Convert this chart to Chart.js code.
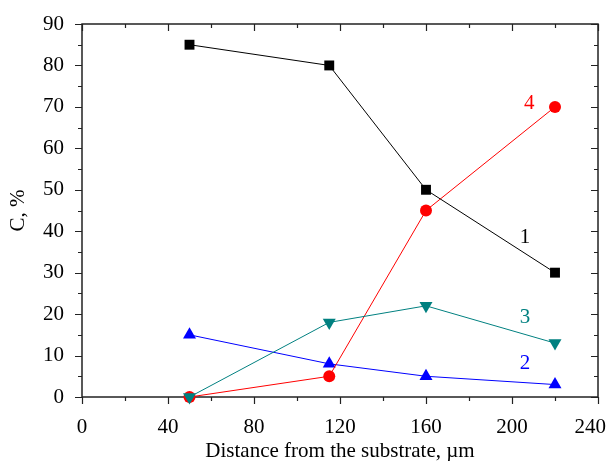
<!DOCTYPE html>
<html>
<head>
<meta charset="utf-8">
<script src="https://cdn.jsdelivr.net/npm/chart.js@4.4.1/dist/chart.umd.min.js"></script>
<style>
  html, body { margin: 0; padding: 0; background: #fff; }
  canvas { display: block; }
</style>
</head>
<body>
<canvas id="chart" width="609" height="461"></canvas>
<script>
// distances from the substrate, um
const distances = [50, 115, 160, 220];
// content C, % for each curve
const curve1 = [85, 80, 50, 30];
const curve2 = [15, 8, 5, 3];
const curve3 = [0, 18, 22, 13];
const curve4 = [0, 5, 45, 70];
const xTicks = [0, 40, 80, 120, 160, 200, 240];
const yTicks = [0, 10, 20, 30, 40, 50, 60, 70, 80, 90];
// curve number labels placed in data units
const curveLabels = [
  { text: '1', x: 206, y: 38.5, color: '#000000' },
  { text: '2', x: 206, y: 8.2, color: '#0000ff' },
  { text: '3', x: 206, y: 19.3, color: '#008080' },
  { text: '4', x: 208, y: 70.8, color: '#ff0000' }
];

const FONT = '"Liberation Serif", "Times New Roman", serif';

function pts(ys) {
  return distances.map((x, i) => ({ x: x, y: ys[i] }));
}

function series(ys, color, style, radius, rotation, order) {
  return {
    data: pts(ys),
    borderColor: color,
    backgroundColor: color,
    borderWidth: 1,
    pointStyle: style,
    pointRadius: radius,
    pointHoverRadius: radius,
    pointRotation: rotation,
    pointBorderWidth: 0,
    order: order,
    clip: false
  };
}

// frame, major/minor ticks (outward on left/bottom, inward on top/right), curve numbers
const framePlugin = {
  id: 'frame',
  beforeDatasetsDraw(chart) {
    const { ctx, chartArea: a, scales: { x, y } } = chart;
    ctx.save();
    ctx.strokeStyle = '#222';
    ctx.lineWidth = 1.5;
    ctx.strokeRect(a.left, a.top, a.right - a.left, a.bottom - a.top);
    ctx.beginPath();
    for (let v = 0; v <= 240; v += 20) {
      const px = Math.round(x.getPixelForValue(v)) + 0.5;
      const len = v % 40 === 0 ? 7 : 4;
      ctx.moveTo(px, a.bottom); ctx.lineTo(px, a.bottom + len);
      ctx.moveTo(px, a.top); ctx.lineTo(px, a.top + len);
    }
    for (let v = 0; v <= 90; v += 5) {
      const py = Math.round(y.getPixelForValue(v)) + 0.5;
      const len = v % 10 === 0 ? 7 : 4;
      ctx.moveTo(a.left, py); ctx.lineTo(a.left - len, py);
      ctx.moveTo(a.right, py); ctx.lineTo(a.right - len, py);
    }
    ctx.lineWidth = 1.2;
    ctx.stroke();
    ctx.restore();
  },
  afterDraw(chart) {
    const { ctx, scales: { x, y } } = chart;
    ctx.save();
    ctx.font = '21px ' + FONT;
    ctx.textAlign = 'center';
    ctx.textBaseline = 'middle';
    curveLabels.forEach(l => {
      ctx.fillStyle = l.color;
      ctx.fillText(l.text, x.getPixelForValue(l.x), y.getPixelForValue(l.y));
    });
    ctx.restore();
  }
};

new Chart(document.getElementById('chart'), {
  type: 'line',
  data: {
    datasets: [
      series(curve1, '#000000', 'rect', 7, 0, 1),
      series(curve3, '#008080', 'triangle', 7.5, 180, 2),
      series(curve4, '#ff0000', 'circle', 6, 0, 3),
      series(curve2, '#0000ff', 'triangle', 7.5, 0, 4)
    ]
  },
  options: {
    responsive: false,
    animation: false,
    events: [],
    layout: { padding: { top: 24, right: 11, left: 0, bottom: 0 } },
    plugins: { legend: { display: false }, tooltip: { enabled: false } },
    scales: {
      x: {
        type: 'linear',
        min: 0,
        max: 240,
        afterFit(s) { s.height = 64; s.paddingLeft = 0; s.paddingRight = 0; },
        afterBuildTicks(s) { s.ticks = xTicks.map(v => ({ value: v })); },
        grid: { display: false },
        border: { display: false },
        ticks: {
          color: '#000',
          font: { family: FONT, size: 21 },
          padding: 10,
          maxRotation: 0,
          // last label is pushed left so it stays inside the canvas
          callback: v => v === 240 ? '240   ' : String(v)
        },
        title: {
          display: true,
          text: 'Distance from the substrate, \u00b5m',
          color: '#000',
          font: { family: FONT, size: 21 },
          padding: { top: 0, bottom: -3 }
        }
      },
      y: {
        type: 'linear',
        min: 0,
        max: 90,
        afterFit(s) { s.width = 82; s.paddingTop = 0; s.paddingBottom = 0; },
        afterBuildTicks(s) { s.ticks = yTicks.map(v => ({ value: v })); },
        grid: { display: false },
        border: { display: false },
        ticks: { color: '#000', font: { family: FONT, size: 21 }, padding: 10 },
        title: {
          display: true,
          text: 'C, %',
          color: '#000',
          font: { family: FONT, size: 21 },
          padding: { top: 6, bottom: 0 }
        }
      }
    }
  },
  plugins: [framePlugin]
});
</script>
</body>
</html>
